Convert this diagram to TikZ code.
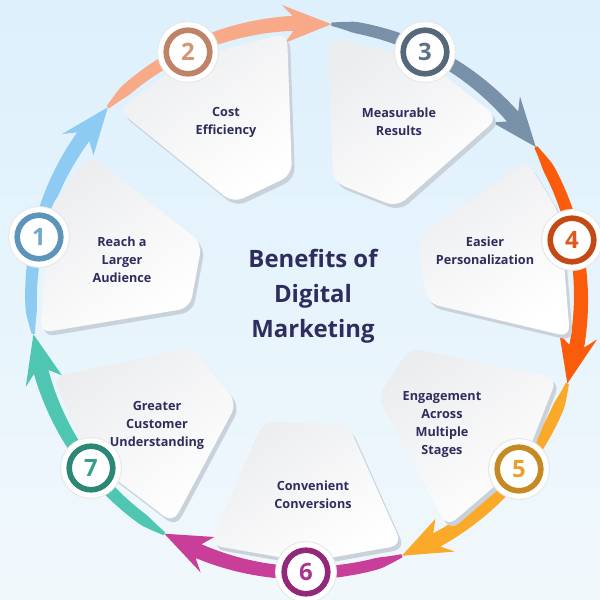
\documentclass[tikz,border=0pt]{standalone}
\usepackage{fontspec}
\setmainfont{Open Sans}
\usepackage{tikz}
\usetikzlibrary{positioning}
\usetikzlibrary{calc}

\definecolor{navy}{HTML}{2E2D5E}
\definecolor{bgtop}{HTML}{DDF0FC}
\definecolor{bgbottom}{HTML}{F1F8FC}
\definecolor{cardgray}{HTML}{ECEDEF}
\definecolor{cardside}{HTML}{C9D2DA}
\definecolor{ringa}{HTML}{5C94BA}\definecolor{digita}{HTML}{6FA8CF}\definecolor{arra}{HTML}{8DCBF3}
\definecolor{ringb}{HTML}{BF8468}\definecolor{digitb}{HTML}{D39572}\definecolor{arrb}{HTML}{F8AA88}
\definecolor{ringc}{HTML}{56697B}\definecolor{digitc}{HTML}{5E7184}\definecolor{arrc}{HTML}{7890A8}
\definecolor{ringd}{HTML}{C24A14}\definecolor{digitd}{HTML}{DD5A1A}\definecolor{arrd}{HTML}{FB5C0C}
\definecolor{ringe}{HTML}{C68A24}\definecolor{digite}{HTML}{E7A22C}\definecolor{arre}{HTML}{FBA928}
\definecolor{ringf}{HTML}{93287A}\definecolor{digitf}{HTML}{A8368E}\definecolor{arrf}{HTML}{C83E98}
\definecolor{ringg}{HTML}{2C8874}\definecolor{digitg}{HTML}{37A08A}\definecolor{arrg}{HTML}{4FC6B1}

\tikzset{card/.style={rounded corners=8pt, top color=cardgray, bottom color=white, shading angle=35}}
\tikzset{cardedge/.style={rounded corners=8pt, fill=cardside}}
\tikzset{cardtext/.style={align=center, text=navy, font=\bfseries\fontsize{9}{12.8}\selectfont}}
\tikzset{badge/.style 2 args={circle, inner sep=0pt, minimum size=31pt, draw=#1, line width=4pt,
  fill=white, text=#2, font=\bfseries\fontsize{17}{17}\selectfont,
  preaction={draw=black!9, line width=13pt}, preaction={draw=white, line width=11.4pt}}}

% ring segment with a short pointed tail: colour, start angle, tip angle
\newcommand\ringarrow[3]{%
  \fill[#1] plot[domain=#2:#3+8,samples=40]
      (\x:{275+(5.5+2*(#2-\x)/(#2-(#3)-8))*min(1,0.3+(#2-\x)/7)})
    -- (#3+10:294) -- (#3:275) -- (#3+10:256)
    -- plot[domain=#3+8:#2,samples=40]
      (\x:{275-(5.5+2*(#2-\x)/(#2-(#3)-8))*min(1,0.3+(#2-\x)/7)}) -- cycle;
}

\begin{document}
\begin{tikzpicture}[x=0.025cm, y=0.025cm]
\useasboundingbox (0,0) rectangle (600,600);
\shade[top color=bgtop, bottom color=bgbottom] (0,0) rectangle (600,600);

% the ring
\begin{scope}[shift={(306,302)}]
\ringarrow{arra}{187.5}{136.1}
\ringarrow{arrb}{136.1}{84.7}
\ringarrow{arrc}{84.7}{33.3}
\ringarrow{arrd}{33.3}{-18.1}
\ringarrow{arre}{-18.1}{-69.6}
\ringarrow{arrf}{-69.6}{-121}
\ringarrow{arrg}{-121}{-172.4}
\end{scope}

% cards
\fill[cardedge, shift={(3,-4)}] (90,445) -- (202,357) -- (190,292) -- (40,267) -- (50,393) -- cycle;
\shade[card] (90,445) -- (202,357) -- (190,292) -- (40,267) -- (50,393) -- cycle;
\fill[cardedge, shift={(3,-4)}] (118,490) -- (185,540) -- (287,567) -- (292,425) -- (233,397) -- cycle;
\shade[card] (118,490) -- (185,540) -- (287,567) -- (292,425) -- (233,397) -- cycle;
\fill[cardedge, shift={(3,-4)}] (328,563) -- (425,540) -- (498,482) -- (397,393) -- (333,418) -- cycle;
\shade[card] (328,563) -- (425,540) -- (498,482) -- (397,393) -- (333,418) -- cycle;
\fill[cardedge, shift={(3,-4)}] (527,440) -- (560,385) -- (570,263) -- (427,297) -- (417,363) -- cycle;
\shade[card] (527,440) -- (560,385) -- (570,263) -- (427,297) -- (417,363) -- cycle;
\fill[cardedge, shift={(3,-4)}] (410,252) -- (557,222) -- (525,140) -- (447,73) -- (378,203) -- cycle;
\shade[card] (410,252) -- (557,222) -- (525,140) -- (447,73) -- (378,203) -- cycle;
\fill[cardedge, shift={(3,-4)}] (263,178) -- (348,176) -- (402,55) -- (307,38) -- (210,55) -- cycle;
\shade[card] (263,178) -- (348,176) -- (402,55) -- (307,38) -- (210,55) -- cycle;
\fill[cardedge, shift={(3,-4)}] (53,223) -- (193,253) -- (237,197) -- (173,77) -- (88,142) -- cycle;
\shade[card] (53,223) -- (193,253) -- (237,197) -- (173,77) -- (88,142) -- cycle;

% texts
\node[cardtext] (reach) at (122,340) {Reach a\\Larger\\Audience};
\node[cardtext] (cost) at (226,478) {Cost\\Efficiency};
\node[cardtext] (measure) at (399,478) {Measurable\\Results};
\node[cardtext] (easier) at (485,349) {Easier\\Personalization};
\node[cardtext] (engage) at (442,175) {Engagement\\Across\\Multiple\\Stages};
\node[cardtext] (convert) at (313,105) {Convenient\\Conversions};
\node[cardtext] (greater) at (157,175) {Greater\\Customer\\Understanding};
\node[align=center, text=navy, font=\bfseries\fontsize{17}{25}\selectfont] (title) at (313,304)
  {Benefits of\\Digital\\Marketing};

% numbers
\node[badge={ringa}{digita}] (n1) at (39,363) {1};
\node[badge={ringb}{digitb}] (n2) at (188,548) {2};
\node[badge={ringc}{digitc}] (n3) at (425,548) {3};
\node[badge={ringd}{digitd}] (n4) at (572,360) {4};
\node[badge={ringe}{digite}] (n5) at (519,131) {5};
\node[badge={ringf}{digitf}] (n6) at (306,28) {6};
\node[badge={ringg}{digitg}] (n7) at (91,132) {7};
\end{tikzpicture}
\end{document}
